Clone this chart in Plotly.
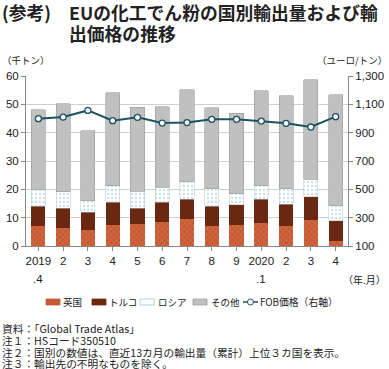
import plotly.graph_objects as go

months = ["2019", "2", "3", "4", "5", "6", "7", "8", "9", "2020", "2", "3", "4"]
sub_labels = [".4", "", "", "", "", "", "", "", "", ".1", "", "", ""]

# cumulative tops (thousand tons)
uk_top = [7.1, 6.4, 5.5, 7.5, 7.6, 8.5, 9.5, 7.1, 7.4, 8.1, 6.9, 9.2, 1.8]
tr_top = [14.1, 13.4, 11.9, 15.5, 13.4, 15.5, 16.5, 14.1, 14.5, 16.5, 14.7, 17.3, 8.9]
ru_top = [19.9, 19.1, 16.0, 21.2, 19.3, 20.8, 22.7, 20.2, 18.4, 21.2, 20.2, 23.6, 14.2]
total = [48.1, 50.2, 40.7, 54.1, 48.9, 49.2, 55.2, 48.8, 46.8, 54.8, 53.1, 58.7, 53.4]
fob = [999, 1010, 1057, 985, 1008, 968, 971, 994, 994, 982, 966, 940, 1013]

uk = uk_top
turkey = [round(t - u, 2) for t, u in zip(tr_top, uk_top)]
russia = [round(r - t, 2) for r, t in zip(ru_top, tr_top)]
other = [round(a - r, 2) for a, r in zip(total, ru_top)]

legend_names = ["英国", "トルコ", "ロシア", "その他", "FOB価格（右軸）"]

x = list(range(len(months)))
FONT = "Noto Sans CJK JP"
L, R, T, B, W, H = 26, 41, 76, 123, 389, 369
PW, PH = W - L - R, H - T - B

def px2paper(px, py):
    return (px - L) / PW, (H - B - py) / PH

UK_C, TR_C, RU_C, OT_C, LN_C = "#c65a34", "#6a2812", "#ffffff", "#c0c0c0", "#1d5360"

fig = go.Figure()
fig.add_trace(go.Bar(x=x, y=uk, name=legend_names[0], width=0.57,
                     marker=dict(color=UK_C, line=dict(width=0),
                                 pattern=dict(shape="x", fgcolor="#e4946a", size=4, solidity=0.3))))
fig.add_trace(go.Bar(x=x, y=turkey, name=legend_names[1], width=0.57,
                     marker=dict(color=TR_C, line=dict(width=0))))
fig.add_trace(go.Bar(x=x, y=russia, name=legend_names[2], width=0.57,
                     marker=dict(color=RU_C, line=dict(width=0.5, color="#b8c8d0"),
                                 pattern=dict(shape=".", fgcolor="#8fc2d8", bgcolor="#ffffff", size=4, solidity=0.3))))
fig.add_trace(go.Bar(x=x, y=other, name=legend_names[3], width=0.57,
                     marker=dict(color=OT_C, line=dict(width=0.6, color="#9a9a9a"))))
fig.add_trace(go.Scatter(x=x, y=fob, name=legend_names[4], yaxis="y2", mode="lines+markers",
                         line=dict(color=LN_C, width=2),
                         marker=dict(symbol="circle", size=6, color="white",
                                     line=dict(color=LN_C, width=1.3))))

fig.update_layout(
    barmode="stack",
    width=W, height=H,
    margin=dict(l=L, r=R, t=T, b=B, autoexpand=False),
    paper_bgcolor="white", plot_bgcolor="white",
    font=dict(family=FONT, size=11, color="#222"),
    showlegend=False,
    xaxis=dict(tickmode="array", tickvals=x, ticktext=months, range=[-0.5, 12.5],
               showline=True, linecolor="#888", linewidth=1, automargin=False,
               ticks="outside", ticklen=4, tickcolor="#888", tickson="boundaries",
               showgrid=False, tickfont=dict(size=11.5, family="Liberation Sans", color="#222")),
    yaxis=dict(range=[0, 60], dtick=10, showgrid=True, gridcolor="#cfcfcf", gridwidth=1,
               showline=True, linecolor="#888", linewidth=1, ticks="outside", ticklen=4,
               automargin=False, tickcolor="#888",
               tickfont=dict(size=11.5, family="Liberation Sans", color="#222"), zeroline=False),
    yaxis2=dict(range=[100, 1300], tick0=100, dtick=200, overlaying="y", side="right",
                showgrid=False, showline=True, linecolor="#888", linewidth=1, automargin=False,
                ticks="outside", ticklen=4, tickcolor="#888", tickformat=",d",
                tickfont=dict(size=11.5, family="Liberation Sans", color="#222"), zeroline=False),
)

ann = []
for i, s in enumerate(sub_labels):
    if s:
        ann.append(dict(x=i, y=0, xref="x", yref="paper", yshift=-33, text=s, showarrow=False,
                        font=dict(size=11.5, family="Liberation Sans", color="#222"),
                        xanchor="center", yanchor="middle"))

texts = [
    (0, 12, "<b>(参考)</b>", 17.8, "left"),
    (67, 12, "<b>EUの化工でん粉の国別輸出量および輸</b>", 17.8, "left"),
    (67, 33, "<b>出価格の推移</b>", 17.8, "left"),
    (0, 60, "（千トン）", 9.5, "left"),
    (389, 60, "（ユーロ/トン）", 9.5, "right"),
    (388, 279, "（年.月）", 10, "right"),
    (0, 328, "資料：「Global Trade Atlas」", 10.7, "left"),
    (0, 340, "注１：HSコード350510", 10.7, "left"),
    (0, 352, "注２：国別の数値は、直近13カ月の輸出量（累計）上位３カ国を表示。", 10.7, "left"),
    (0, 363, "注３：輸出先の不明なものを除く。", 10.7, "left"),
]
for px, py, t, fs, xa in texts:
    xp, yp = px2paper(px, py)
    ann.append(dict(x=xp, y=yp, xref="paper", yref="paper", text=t, showarrow=False,
                    xanchor=xa, yanchor="middle", font=dict(size=fs, family=FONT, color="#222")))

# manual legend
shapes = []
leg_y = 302
swatch_colors = [UK_C, TR_C, RU_C, OT_C]
swatch_lines = [UK_C, TR_C, "#9cc4d6", "#a0a0a0"]
leg_x = [46, 92, 140, 193]
text_x = [61, 107, 156, 209]
for i in range(4):
    x0, y0 = px2paper(leg_x[i], leg_y + 3)
    x1, y1 = px2paper(leg_x[i] + 14, leg_y - 3)
    shapes.append(dict(type="rect", xref="paper", yref="paper", x0=x0, y0=y0, x1=x1, y1=y1,
                       fillcolor=swatch_colors[i], line=dict(color=swatch_lines[i], width=0.8)))
    tx, ty = px2paper(text_x[i], leg_y)
    ann.append(dict(x=tx, y=ty, xref="paper", yref="paper", text=legend_names[i], showarrow=False,
                    xanchor="left", yanchor="middle", font=dict(size=9.5, family=FONT, color="#222")))
lx0, ly = px2paper(243, leg_y)
lx1, _ = px2paper(258, leg_y)
shapes.append(dict(type="line", xref="paper", yref="paper", x0=lx0, x1=lx1, y0=ly, y1=ly,
                   line=dict(color=LN_C, width=1.5)))
cx0, cy0 = px2paper(247.5, leg_y + 3)
cx1, cy1 = px2paper(253.5, leg_y - 3)
shapes.append(dict(type="circle", xref="paper", yref="paper", x0=cx0, x1=cx1, y0=cy0, y1=cy1,
                   fillcolor="white", line=dict(color=LN_C, width=1)))
tx, ty = px2paper(258, leg_y)
ann.append(dict(x=tx, y=ty, xref="paper", yref="paper", text=legend_names[4], showarrow=False,
                xanchor="left", yanchor="middle", font=dict(size=9.8, family=FONT, color="#222")))

fig.update_layout(annotations=ann, shapes=shapes)
fig.write_html("out.html", config={"displayModeBar": False},
               post_script="document.body.style.margin='0';document.body.style.padding='0';"
                           "document.body.style.overflow='hidden';")
